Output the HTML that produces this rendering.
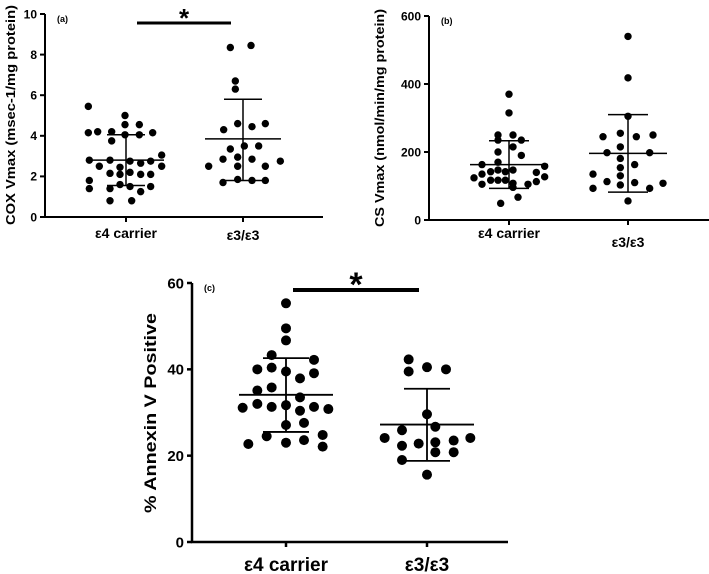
<!DOCTYPE html>
<html><head><meta charset="utf-8"><style>
html,body{margin:0;padding:0;background:#fff;}
svg{display:block;font-family:"Liberation Sans",sans-serif;}
</style></head><body>
<svg id="fig" width="709" height="574" viewBox="0 0 709 574"></svg>
<script>
// Panel (a) COX Vmax
const catsA = ["ε4 carrier","ε3/ε3"];
const a4Vals = [5.45,5.0,4.55,4.55,4.2,4.2,4.15,4.15,4.05,4.05,3.75,3.05,2.8,2.8,2.75,2.65,2.75,2.5,2.5,2.45,2.15,2.2,2.1,2.1,2.1,1.8,1.6,1.5,1.5,1.4,1.4,1.25,0.8,0.8];
const a4Jit = [265,375,375,418,293,335,265,458,375,418,335,485,268,330,390,422,452,485,298,360,330,390,360,422,452,268,360,390,452,268,330,422,330,395];
const a3Vals = [8.35,8.45,6.7,6.3,4.3,4.6,4.45,4.6,3.35,3.5,3.5,2.5,2.85,2.95,2.85,2.5,2.5,2.75,1.7,1.85,1.8,1.8];
const a3Jit = [690,752,705,705,670,712,755,795,690,732,775,625,668,712,755,712,795,840,668,712,755,795];
const aStats = [[2.8,1.55,4.05],[3.85,1.8,5.8]];
const aTicks = [0,2,4,6,8,10];
// Panel (b) CS Vmax
const b4Vals = [370,315,250,250,235,235,215,200,190,170,163,158,147,147,135,142,142,140,124,127,117,117,117,108,105,105,113,96,67,49];
const b4Jit = [463,463,430,475,430,500,475,430,500,430,382,570,430,475,382,408,452,545,358,570,408,430,452,475,382,520,545,475,490,438];
const b3Vals = [540,418,305,245,255,245,250,215,198,198,181,163,154,135,130,113,103,110,93,93,108,56];
const b3Jit = [820,820,820,745,797,845,895,797,757,885,797,840,797,715,797,757,797,840,715,885,925,820];
const bStats = [[163,93,233],[196,82,310]];
const bTicks = [0,200,400,600];
// Panel (c) Annexin V
const c4Vals = [55.3,49.5,46.7,43.3,42.2,40.0,40.4,39.5,37.9,39.1,35.1,35.8,33.5,31.1,32.0,31.3,31.7,30.4,31.3,30.8,27.1,27.6,24.5,24.8,23.0,23.6,22.7,22.1];
const c4Jit = [378,378,378,335,462,292,335,378,420,462,292,335,420,248,292,335,378,420,462,505,378,432,320,488,378,432,265,488];
const c3Vals = [42.3,39.5,40.5,40.0,29.6,24.1,25.9,26.7,24.1,22.3,22.8,23.1,23.5,19.0,20.8,20.8,15.6];
const c3Jit = [745,745,800,857,800,673,725,825,930,725,775,825,880,725,825,880,800];
const cStats = [[34.1,25.5,42.6],[27.2,18.8,35.5]];
const cTicks = [0,20,40,60];

const NS="http://www.w3.org/2000/svg";
const svg=document.getElementById('fig');
function mk(tag,attrs,parent,txt){const e=document.createElementNS(NS,tag);for(const k in attrs)e.setAttribute(k,attrs[k]);if(txt!==undefined)e.textContent=txt;(parent||svg).appendChild(e);return e;}

function panel(o){
  const g=mk('g',{});
  
  
  const y=v=>o.y0-(v/o.max)*(o.y0-o.yTop);
  const ax=mk('path',{d:`M${o.ax} ${o.yTop} V${o.y0} H${o.xEnd}`,stroke:'#000','stroke-width':o.lw,fill:'none'},g);
  
  
  o.ticks.forEach(t=>{
    mk('line',{x1:o.ax-5,x2:o.ax,y1:y(t),y2:y(t),stroke:'#000','stroke-width':o.lw},g);
    const tl=mk('text',{x:o.ax-8,y:y(t)+o.tf*0.36,'text-anchor':'end','font-size':o.tf,'font-weight':'bold'},g,t);
    
    
  });
  o.cats.forEach((c,i)=>{
    mk('line',{x1:o.cx[i],x2:o.cx[i],y1:o.y0,y2:o.y0+5,stroke:'#000','stroke-width':o.lw},g);
    const cl=mk('text',{x:o.cx[i],y:o.labY[i],'text-anchor':'middle','font-size':o.cf,'font-weight':'bold'},g,c);
    
    
  });
  const t=mk('text',{transform:`translate(${o.titleX},${o.titleY}) rotate(-90)`,'text-anchor':'middle','font-size':o.titleF,'font-weight':'bold',textLength:o.titleLen,lengthAdjust:'spacingAndGlyphs'},g,o.title);
  
  
  const pl=mk('text',{x:o.ax+12,y:o.yTop+8,'font-size':o.pf,'font-weight':'bold'},g,o.letter);
  
  
  o.series.forEach((s,i)=>{
    s.vals.forEach((v,j)=>{
      const d=mk('circle',{cx:o.cx[i]+(s.jit[j]-s.center)/3,cy:y(v),r:o.r,fill:'#000'},g);
      
      
    });
    const st=o.stats[i],cx=o.cx[i];
    const eb=mk('path',{d:`M${cx-o.mw} ${y(st[0])} H${cx+o.mw} M${cx} ${y(st[1])} V${y(st[2])} M${cx-o.sw} ${y(st[1])} H${cx+o.sw} M${cx-o.sw} ${y(st[2])} H${cx+o.sw}`,stroke:'#000','stroke-width':o.elw,fill:'none'},g);
    
    
  });
  if(o.sig){
    const sb=mk('line',{x1:o.sig[0],x2:o.sig[1],y1:o.sig[2],y2:o.sig[2],stroke:'#000','stroke-width':o.sig[3]},g);
    
    
    const s=mk('text',{x:(o.sig[0]+o.sig[1])/2,y:o.sig[2]-o.sig[5],'text-anchor':'middle','font-size':o.sig[4],'font-weight':'bold'},g,'*');
    
    
  }
}

panel({name:'panel-a-cox',ax:45,yTop:14,y0:217,xEnd:323,max:10,ticks:aTicks,cats:catsA,cx:[126,243],labY:[238,240],
  tf:12,cf:14,lw:2,elw:1.5,r:3.7,mw:38,sw:19,stats:aStats,
  series:[{vals:a4Vals,jit:a4Jit,center:378},{vals:a3Vals,jit:a3Jit,center:728}],
  title:'COX Vmax (msec-1/mg protein)',titleX:15,titleY:115,titleF:13,titleLen:220,letter:'(a)',pf:9,
  sig:[137,231,23,3,26,-4]});
panel({name:'panel-b-cs',ax:429,yTop:16,y0:220,xEnd:709,max:600,ticks:bTicks,cats:catsA,cx:[509,628],labY:[238,247],
  tf:12,cf:14,lw:2,elw:1.5,r:3.7,mw:39,sw:20,stats:bStats,
  series:[{vals:b4Vals,jit:b4Jit,center:463},{vals:b3Vals,jit:b3Jit,center:820}],
  title:'CS Vmax (nmol/min/mg protein)',titleX:384,titleY:118,titleF:13,titleLen:218,letter:'(b)',pf:9});
panel({name:'panel-c-annexin',ax:192,yTop:283,y0:542,xEnd:508,max:60,ticks:cTicks,cats:catsA,cx:[286,427],labY:[571,571],
  tf:15,cf:19,lw:2.5,elw:1.8,r:5,mw:47,sw:23,stats:cStats,
  series:[{vals:c4Vals,jit:c4Jit,center:378},{vals:c3Vals,jit:c3Jit,center:800}],
  title:'% Annexin V Positive',titleX:156,titleY:413,titleF:17,titleLen:200,letter:'(c)',pf:9,
  sig:[293,419,290,4,34,-6]});
</script>
</body></html>
